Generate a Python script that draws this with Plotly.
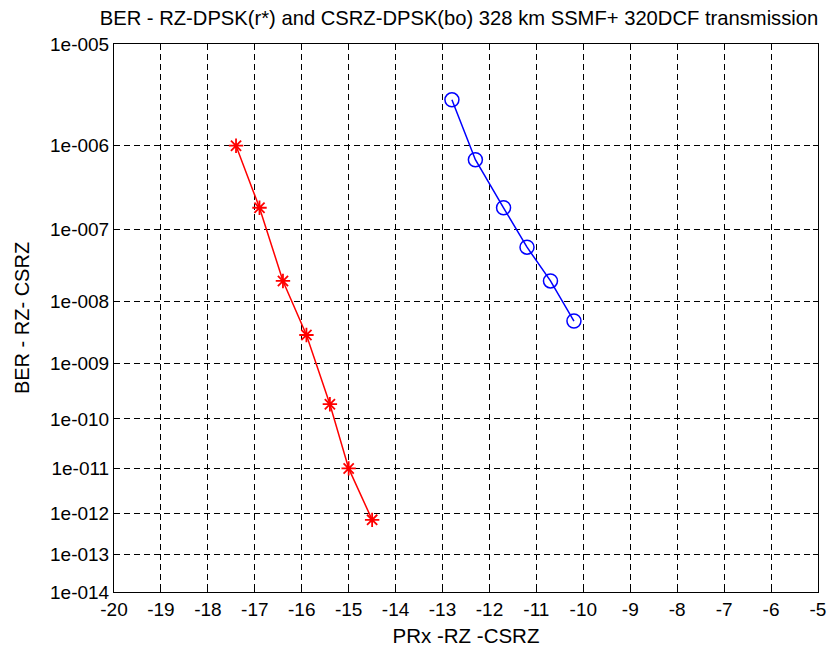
import math
import plotly.graph_objects as go

# Data
red_x = [-17.4, -16.9, -16.4, -15.9, -15.4, -15.0, -14.5]
red_ber = [1e-6, 1.9e-7, 2e-8, 3e-9, 1.9e-10, 1e-11, 7e-13]
blue_x = [-12.8, -12.3, -11.7, -11.2, -10.7, -10.2]
blue_ber = [3e-6, 7e-7, 1.9e-7, 5.9e-8, 2e-8, 5e-9]

tick_ber = [1e-5, 1e-6, 1e-7, 1e-8, 1e-9, 1e-10, 1e-11, 1e-12, 1e-13, 1e-14]
tick_text = ["1e-005", "1e-006", "1e-007", "1e-008", "1e-009",
             "1e-010", "1e-011", "1e-012", "1e-013", "1e-014"]
x_ticks = list(range(-20, -4))


def q_of_ber(ber):
    # Q = sqrt(2)*erfcinv(2*BER), solved by bisection
    lo, hi = 0.0, 20.0
    for _ in range(200):
        mid = 0.5 * (lo + hi)
        if 0.5 * math.erfc(mid / math.sqrt(2)) > ber:
            lo = mid
        else:
            hi = mid
    return 0.5 * (lo + hi)


def g(ber):
    return math.log10(q_of_ber(ber))


font = "Liberation Sans, Arial, sans-serif"

fig = go.Figure()
fig.add_trace(go.Scatter(
    x=red_x, y=[g(b) for b in red_ber], mode="lines+markers",
    line=dict(color="red", width=1.5),
    marker=dict(symbol="asterisk-open", size=12, line=dict(color="red", width=1.8)),
    showlegend=False))
fig.add_trace(go.Scatter(
    x=blue_x, y=[g(b) for b in blue_ber], mode="lines+markers",
    line=dict(color="blue", width=1.5),
    marker=dict(symbol="circle-open", size=14, color="blue", line=dict(color="blue", width=1.5)),
    showlegend=False))

fig.update_layout(
    width=830, height=639,
    margin=dict(l=106, r=20, t=36, b=55),
    paper_bgcolor="white", plot_bgcolor="white",
    font=dict(family=font, size=19, color="black"),
    title=dict(text="BER - RZ-DPSK(r*) and CSRZ-DPSK(bo) 328 km SSMF+ 320DCF transmission",
               x=451 / 830, xanchor="center", y=1 - 10 / 639, yanchor="middle",
               font=dict(family=font, size=20.2, color="black")),
)
fig.update_xaxes(
    range=[-20, -5], tickvals=x_ticks, ticktext=[str(v) for v in x_ticks],
    tickfont=dict(size=19), automargin=False,
    showgrid=True, gridcolor="black", griddash="6px,4px", gridwidth=1,
    showline=True, linecolor="black", linewidth=1, mirror="ticks",
    ticks="inside", ticklen=5, tickcolor="black",
    zeroline=False,
    title=dict(text="PRx -RZ -CSRZ", font=dict(size=20.5)),
)
fig.update_yaxes(
    range=[g(1e-14), g(1e-5)], tickvals=[g(b) for b in tick_ber], ticktext=tick_text,
    tickfont=dict(size=19), automargin=False,
    showgrid=True, gridcolor="black", griddash="6px,4px", gridwidth=1,
    showline=True, linecolor="black", linewidth=1, mirror="ticks",
    ticks="inside", ticklen=5, tickcolor="black",
    zeroline=False,
    title=dict(text="BER - RZ- CSRZ", font=dict(size=20)),
)

fig.write_html("out.html")
